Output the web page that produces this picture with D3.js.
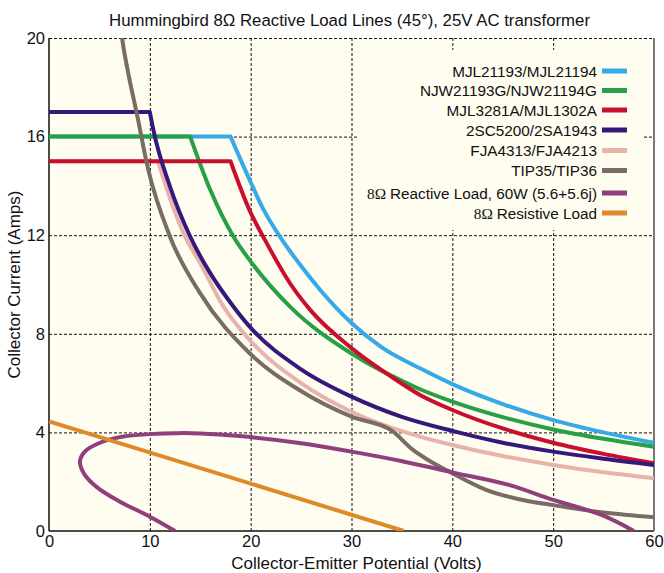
<!DOCTYPE html>
<html>
<head>
<meta charset="utf-8">
<script src="https://cdn.jsdelivr.net/npm/d3@7"></script>
<style>
  body { margin: 0; background: #fff; }
  text { font-family: "Liberation Sans", Arial, sans-serif; fill: #111; }
</style>
</head>
<body>
<svg width="664" height="573"></svg>
<script>
// series values, [volts, amps]; the first two points of a transistor curve are its current limit
var mjl21193 = [[0, 16], [18, 16], [19.9, 14.24], [21.2, 13.1], [22.9, 11.94], [25, 10.75], [26.9, 9.78], [30, 8.44], [33, 7.45], [36.8, 6.6], [40, 5.96], [45, 5.15], [50, 4.5], [55, 4.0], [60, 3.58]];
var njw21193 = [[0, 16], [14, 16], [16, 13.83], [18.3, 11.94], [19.9, 10.99], [23.9, 9.1], [30, 7.2], [35, 6.09], [36.8, 5.75], [40, 5.25], [45, 4.62], [50, 4.12], [55, 3.74], [60, 3.42]];
var mjl3281 = [[0, 15], [18, 15], [19.9, 13.0], [21.6, 11.67], [23.9, 10.05], [25.9, 8.97], [30, 7.42], [33.8, 6.3], [36.8, 5.52], [40, 4.91], [45, 4.16], [50, 3.58], [55, 3.13], [60, 2.75]];
var sc5200 = [[0, 17], [10, 17], [10.35, 16.27], [12, 13.97], [14, 11.94], [16, 10.45], [18.3, 9.1], [19.9, 8.29], [25, 6.56], [30, 5.45], [35, 4.63], [40, 4.06], [45, 3.58], [50, 3.22], [55, 2.93], [60, 2.68]];
var fja4313 = [[0, 15], [10.8, 15], [12, 13.5], [13.5, 11.94], [15, 10.86], [17.3, 9.1], [19.9, 7.75], [25, 6.0], [30, 4.84], [36.8, 3.83], [40, 3.49], [45, 3.04], [50, 2.68], [55, 2.38], [60, 2.14]];
var tip35 = [[7.1, 20.5], [7.25, 20], [7.85, 18.6], [8.7, 16.95], [9.85, 14.65], [12, 11.94], [15, 9.64], [19.9, 7.21], [24.9, 5.7], [30, 4.64], [34, 4.07], [36.1, 3.29], [37.6, 2.88], [40, 2.34], [43.4, 1.66], [46.5, 1.3], [50, 1.05], [55, 0.75], [60, 0.56]];
var reactive = [[12.5, 0], [10, 0.58], [7.04, 1.19], [4.9, 1.73], [3.57, 2.27], [3.07, 2.81], [3.55, 3.22], [5.06, 3.58], [7.37, 3.83], [10, 3.93], [12.7, 3.97], [15, 3.96], [18.9, 3.85], [25, 3.56], [30, 3.22], [34.8, 2.85], [40, 2.38], [45.6, 1.87], [50, 1.26], [54.8, 0.65], [58, 0]];
var resistive = [[0, 4.45], [35.2, 0]];

var legendNames = ["MJL21193/MJL21194", "NJW21193G/NJW21194G", "MJL3281A/MJL1302A", "2SC5200/2SA1943", "FJA4313/FJA4213", "TIP35/TIP36", "Reactive Load, 60W (5.6+5.6j)", "Resistive Load"];
var legendData = [mjl21193, njw21193, mjl3281, sc5200, fja4313, tip35, reactive, resistive];
var colors = ["#36a9e9", "#27a046", "#c8102e", "#36187c", "#e7b3ab", "#786c64", "#8f3f7c", "#de8a28"];
var drawOrder = [0, 1, 4, 2, 3, 5, 6, 7];

var xTicks = [0, 10, 20, 30, 40, 50, 60];
var yTicks = [0, 4, 8, 12, 16, 20];

var svg = d3.select("svg"),
    width = +svg.attr("width"),
    height = +svg.attr("height");
var margin = { top: 38, right: 10, bottom: 42, left: 49 };
var x = d3.scaleLinear().domain([0, 60]).range([margin.left, width - margin.right]);
var y = d3.scaleLinear().domain([0, 20]).range([height - margin.bottom, margin.top]);
var bg = "#fffcf0";
var font = "Liberation Sans, Arial, sans-serif";

svg.append("rect")
    .attr("x", x(0)).attr("y", y(20))
    .attr("width", x(60) - x(0)).attr("height", y(0) - y(20))
    .attr("fill", bg);

// grid
svg.append("g")
    .attr("transform", "translate(0," + y(0) + ")")
    .call(d3.axisBottom(x).tickValues(xTicks.slice(1, -1)).tickSize(-(y(0) - y(20))).tickFormat(""))
    .call(function (g) { g.select(".domain").remove(); })
    .selectAll("line")
    .attr("stroke", "#111").attr("stroke-dasharray", "3,2");

svg.append("g")
    .attr("transform", "translate(" + x(0) + ",0)")
    .call(d3.axisLeft(y).tickValues(yTicks.slice(1)).tickSize(-(x(60) - x(0))).tickFormat(""))
    .call(function (g) { g.select(".domain").remove(); })
    .selectAll("line")
    .attr("stroke", "#111").attr("stroke-dasharray", "3,2");

// frame
svg.append("line").attr("x1", x(0)).attr("x2", x(0)).attr("y1", y(0)).attr("y2", y(20))
    .attr("stroke", "#111").attr("stroke-width", 1.5);
svg.append("line").attr("x1", x(0)).attr("x2", x(60)).attr("y1", y(0)).attr("y2", y(0))
    .attr("stroke", "#111").attr("stroke-width", 1.5);
svg.append("line").attr("x1", x(60)).attr("x2", x(60)).attr("y1", y(0)).attr("y2", y(20))
    .attr("stroke", "#777").attr("stroke-width", 2);

// legend box hides the grid behind it
var legend = svg.append("g");
legend.append("rect")
    .attr("x", 358).attr("y", 50).attr("width", 286).attr("height", 180)
    .attr("fill", bg);

// tick labels
svg.append("g")
    .attr("transform", "translate(0," + y(0) + ")")
    .call(d3.axisBottom(x).tickValues(xTicks).tickSize(0).tickPadding(4))
    .call(function (g) { g.select(".domain").remove(); })
    .selectAll("text")
    .style("font-size", "16.5px").style("font-family", font).attr("fill", "#111");

svg.append("g")
    .attr("transform", "translate(" + (x(0) - 4) + ",0)")
    .call(d3.axisLeft(y).tickValues(yTicks).tickSize(0).tickPadding(0))
    .call(function (g) { g.select(".domain").remove(); })
    .selectAll("text")
    .style("font-size", "16.5px").style("font-family", font).attr("fill", "#111");

// titles
svg.append("text")
    .attr("x", (x(0) + x(60)) / 2 - 2).attr("y", 26)
    .attr("text-anchor", "middle").style("font-size", "16.8px")
    .text("Hummingbird 8Ω Reactive Load Lines (45°), 25V AC transformer");

svg.append("text")
    .attr("x", (x(0) + x(60)) / 2 + 5).attr("y", 569)
    .attr("text-anchor", "middle").style("font-size", "17px")
    .text("Collector-Emitter Potential (Volts)");

svg.append("text")
    .attr("transform", "translate(20," + ((y(0) + y(20)) / 2) + ") rotate(-90)")
    .attr("text-anchor", "middle").style("font-size", "17px")
    .text("Collector Current (Amps)");

// curves
svg.append("clipPath").attr("id", "plot")
    .append("rect")
    .attr("x", x(0)).attr("y", y(20))
    .attr("width", x(60) - x(0)).attr("height", y(0) - y(20));

var straight = d3.line()
    .x(function (d) { return x(d[0]); })
    .y(function (d) { return y(d[1]); });
var smooth = d3.line()
    .x(function (d) { return x(d[0]); })
    .y(function (d) { return y(d[1]); })
    .curve(d3.curveMonotoneX);
var loop = d3.line()
    .x(function (d) { return x(d[0]); })
    .y(function (d) { return y(d[1]); })
    .curve(d3.curveCatmullRom.alpha(0.5));

function curvePath(i) {
    var pts = legendData[i];
    if (i == 5) return smooth(pts);
    if (i == 6) return loop(pts);
    if (i == 7) return straight(pts);
    // flat current limit, then a smooth power limit from the corner on
    return straight(pts.slice(0, 2)) + smooth(pts.slice(1)).replace(/^M/, "L");
}

svg.append("g")
    .attr("clip-path", "url(#plot)")
    .selectAll("path")
    .data(drawOrder)
    .enter().append("path")
    .attr("d", curvePath)
    .attr("fill", "none")
    .attr("stroke", function (i) { return colors[i]; })
    .attr("stroke-width", 4)
    .attr("stroke-linejoin", "round");

// legend entries
var rowY = [71, 90.5, 110, 130, 150.5, 170.5, 193, 213];
var row = legend.selectAll("g.row")
    .data(legendNames)
    .enter().append("g")
    .attr("class", "row")
    .attr("transform", function (d, i) { return "translate(0," + rowY[i] + ")"; });

row.append("rect")
    .attr("x", 602).attr("y", -2.5).attr("width", 25).attr("height", 5)
    .attr("fill", function (d, i) { return colors[i]; });

var label = row.append("text")
    .attr("x", 597).attr("dy", "0.36em")
    .attr("text-anchor", "end")
    .style("font-size", "15.3px");

label.filter(function (d, i) { return i >= 6; })
    .append("tspan")
    .style("font-family", "Liberation Serif, Times New Roman, serif")
    .text("8Ω ");

label.append("tspan")
    .text(function (d) { return d; });
</script>
</body>
</html>
